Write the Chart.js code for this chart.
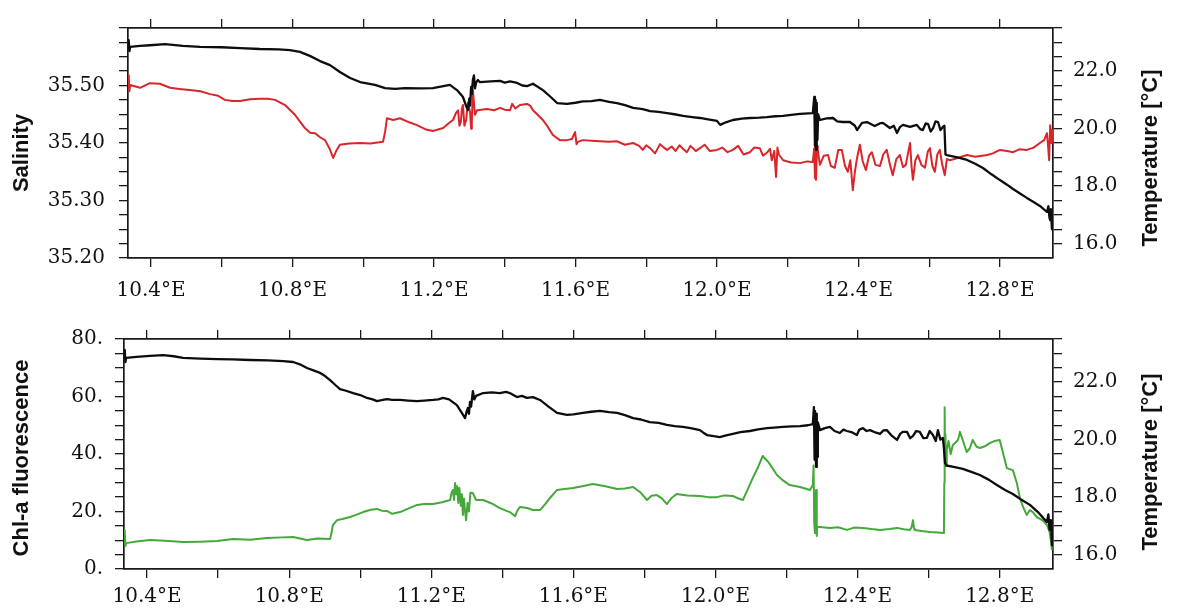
<!DOCTYPE html>
<html><head><meta charset="utf-8">
<script src="https://cdn.jsdelivr.net/npm/chart.js@4.4.1/dist/chart.umd.min.js"></script>
<style>
html,body{margin:0;padding:0;background:#fff;}
#wrap{position:relative;width:1177px;height:610px;overflow:hidden;}
canvas{position:absolute;left:0;}
</style></head><body>
<div id="wrap">
<canvas id="c1" width="1177" height="305" style="top:0"></canvas>
<canvas id="c2" width="1177" height="305" style="top:305px"></canvas>
</div>
<script>
// ---------- axis ticks ----------
const xTickValues = [10.4,10.6,10.8,11.0,11.2,11.4,11.6,11.8,12.0,12.2,12.4,12.6,12.8];
const xTickLabels = ['10.4°E','','10.8°E','','11.2°E','','11.6°E','','12.0°E','','12.4°E','','12.8°E'];
const salTickValues = [35.2,35.225,35.25,35.275,35.3,35.325,35.35,35.375,35.4,35.425,35.45,35.475,35.5,35.525,35.55,35.575,35.6];
const salTickLabels = ['35.20','','','','35.30','','','','35.40','','','','35.50','','','',''];
const tempTickValues = [16.0,16.5,17.0,17.5,18.0,18.5,19.0,19.5,20.0,20.5,21.0,21.5,22.0,22.5,23.0,23.5];
const tempTickLabels = ['16.0','','','','18.0','','','','20.0','','','','22.0','','',''];
const chlTickValues = [0,5,10,15,20,25,30,35,40,45,50,55,60,65,70,75,80];
const chlTickLabels = ['0.','','','','20.','','','','40.','','','','60.','','','','80.'];

// ---------- series: [longitude, value] ----------
const temperatureTop = [[10.335,22.84],[10.337,23.08],[10.339,22.70],[10.341,22.84],[10.369,22.88],[10.397,22.90],[10.440,22.94],[10.490,22.88],[10.539,22.84],[10.600,22.83],[10.652,22.80],[10.708,22.77],[10.760,22.76],[10.793,22.73],[10.821,22.67],[10.849,22.53],[10.878,22.35],[10.906,22.21],[10.934,21.97],[10.963,21.76],[10.991,21.62],[11.033,21.52],[11.062,21.41],[11.090,21.38],[11.118,21.41],[11.160,21.40],[11.197,21.41],[11.245,21.52],[11.265,21.34],[11.282,21.10],[11.292,20.75],[11.296,20.65],[11.300,21.05],[11.302,20.80],[11.305,21.45],[11.307,21.20],[11.310,21.70],[11.313,21.85],[11.316,21.40],[11.319,21.60],[11.324,21.69],[11.330,21.62],[11.360,21.64],[11.387,21.66],[11.400,21.60],[11.415,21.64],[11.435,21.59],[11.450,21.50],[11.463,21.48],[11.480,21.56],[11.508,21.34],[11.530,21.10],[11.548,20.89],[11.576,20.86],[11.600,20.90],[11.621,20.95],[11.645,20.96],[11.669,21.0],[11.695,20.93],[11.717,20.89],[11.740,20.82],[11.763,20.72],[11.790,20.68],[11.811,20.61],[11.835,20.58],[11.859,20.54],[11.880,20.50],[11.904,20.44],[11.930,20.40],[11.952,20.37],[11.975,20.32],[12.000,20.27],[12.009,20.13],[12.025,20.22],[12.045,20.30],[12.070,20.35],[12.093,20.37],[12.120,20.38],[12.141,20.40],[12.165,20.43],[12.187,20.44],[12.210,20.48],[12.235,20.51],[12.271,20.54],[12.275,21.10],[12.277,19.40],[12.279,21.0],[12.280,19.26],[12.282,20.9],[12.284,19.6],[12.286,20.5],[12.291,20.30],[12.310,20.36],[12.328,20.37],[12.340,20.25],[12.356,20.23],[12.376,20.23],[12.390,20.10],[12.396,19.95],[12.410,20.20],[12.424,20.23],[12.446,20.09],[12.460,20.18],[12.469,20.20],[12.489,20.02],[12.500,20.10],[12.509,19.85],[12.517,20.05],[12.526,20.13],[12.546,20.06],[12.565,20.13],[12.575,19.98],[12.582,19.95],[12.590,20.18],[12.597,20.16],[12.604,19.90],[12.611,20.02],[12.618,20.25],[12.625,20.23],[12.632,19.95],[12.639,20.06],[12.643,20.10],[12.646,19.10],[12.650,19.08],[12.680,19.00],[12.707,18.91],[12.730,18.78],[12.752,18.63],[12.775,18.42],[12.800,18.21],[12.820,18.05],[12.837,17.90],[12.860,17.72],[12.876,17.59],[12.895,17.45],[12.913,17.31],[12.933,17.10],[12.937,17.30],[12.940,16.90],[12.942,16.82],[12.944,17.20],[12.947,16.50],[12.949,16.80]];

const salinityTop = [[10.335,35.501],[10.337,35.518],[10.339,35.490],[10.341,35.501],[10.369,35.496],[10.397,35.504],[10.425,35.503],[10.454,35.496],[10.480,35.494],[10.510,35.492],[10.540,35.490],[10.567,35.485],[10.590,35.482],[10.609,35.475],[10.630,35.473],[10.652,35.473],[10.680,35.476],[10.708,35.477],[10.730,35.477],[10.751,35.475],[10.779,35.466],[10.807,35.449],[10.835,35.426],[10.850,35.418],[10.864,35.417],[10.878,35.410],[10.892,35.405],[10.905,35.390],[10.915,35.374],[10.925,35.388],[10.934,35.397],[10.960,35.399],[10.991,35.400],[11.020,35.399],[11.056,35.402],[11.062,35.420],[11.067,35.443],[11.085,35.440],[11.104,35.443],[11.130,35.436],[11.152,35.431],[11.175,35.424],[11.197,35.421],[11.226,35.426],[11.245,35.436],[11.254,35.440],[11.262,35.452],[11.268,35.457],[11.272,35.430],[11.276,35.437],[11.279,35.460],[11.282,35.466],[11.286,35.430],[11.291,35.440],[11.296,35.470],[11.302,35.454],[11.305,35.425],[11.307,35.437],[11.310,35.492],[11.313,35.470],[11.316,35.449],[11.322,35.457],[11.350,35.459],[11.370,35.457],[11.387,35.461],[11.400,35.458],[11.415,35.457],[11.421,35.468],[11.430,35.460],[11.443,35.466],[11.463,35.468],[11.472,35.465],[11.480,35.457],[11.508,35.440],[11.522,35.428],[11.536,35.414],[11.556,35.405],[11.576,35.405],[11.590,35.407],[11.599,35.419],[11.603,35.398],[11.607,35.402],[11.621,35.405],[11.645,35.404],[11.669,35.403],[11.695,35.402],[11.717,35.403],[11.740,35.397],[11.763,35.400],[11.780,35.395],[11.790,35.388],[11.800,35.396],[11.811,35.391],[11.825,35.382],[11.839,35.398],[11.850,35.392],[11.859,35.388],[11.872,35.394],[11.883,35.386],[11.894,35.396],[11.904,35.390],[11.915,35.384],[11.925,35.395],[11.940,35.386],[11.952,35.391],[11.965,35.397],[11.980,35.386],[12.000,35.388],[12.015,35.392],[12.030,35.384],[12.045,35.388],[12.060,35.395],[12.075,35.380],[12.093,35.384],[12.105,35.392],[12.121,35.391],[12.130,35.378],[12.141,35.383],[12.150,35.390],[12.155,35.370],[12.162,35.386],[12.167,35.341],[12.171,35.392],[12.175,35.380],[12.187,35.370],[12.210,35.366],[12.235,35.365],[12.255,35.368],[12.271,35.367],[12.275,35.391],[12.277,35.340],[12.280,35.336],[12.283,35.395],[12.285,35.388],[12.291,35.362],[12.302,35.378],[12.314,35.379],[12.322,35.360],[12.333,35.357],[12.343,35.388],[12.353,35.388],[12.362,35.360],[12.370,35.350],[12.377,35.370],[12.384,35.318],[12.390,35.350],[12.396,35.374],[12.404,35.397],[12.412,35.368],[12.421,35.353],[12.430,35.378],[12.438,35.384],[12.448,35.362],[12.461,35.360],[12.470,35.380],[12.480,35.388],[12.488,35.365],[12.497,35.344],[12.507,35.372],[12.517,35.379],[12.526,35.358],[12.534,35.362],[12.541,35.385],[12.546,35.400],[12.550,35.360],[12.554,35.336],[12.561,35.370],[12.568,35.379],[12.578,35.362],[12.588,35.357],[12.596,35.385],[12.602,35.391],[12.609,35.360],[12.616,35.350],[12.623,35.380],[12.630,35.388],[12.637,35.362],[12.644,35.344],[12.650,35.372],[12.659,35.370],[12.680,35.374],[12.707,35.379],[12.730,35.376],[12.764,35.379],[12.780,35.382],[12.800,35.388],[12.820,35.386],[12.837,35.384],[12.855,35.389],[12.876,35.388],[12.895,35.392],[12.913,35.400],[12.925,35.405],[12.933,35.417],[12.936,35.395],[12.939,35.370],[12.942,35.431],[12.945,35.400],[12.947,35.423],[12.949,35.415]];

const temperatureBottom = [[10.335,22.84],[10.337,23.12],[10.339,22.70],[10.341,22.84],[10.370,22.88],[10.408,22.91],[10.445,22.94],[10.475,22.90],[10.501,22.84],[10.550,22.82],[10.597,22.80],[10.640,22.79],[10.690,22.77],[10.740,22.76],[10.783,22.73],[10.811,22.70],[10.830,22.62],[10.850,22.49],[10.870,22.40],[10.887,22.32],[10.900,22.22],[10.915,22.07],[10.930,21.90],[10.943,21.76],[10.960,21.70],[10.980,21.62],[11.000,21.55],[11.019,21.45],[11.035,21.40],[11.047,21.34],[11.060,21.37],[11.075,21.41],[11.090,21.38],[11.112,21.38],[11.135,21.36],[11.160,21.34],[11.180,21.36],[11.205,21.38],[11.220,21.40],[11.233,21.45],[11.250,21.40],[11.272,21.20],[11.285,20.95],[11.295,20.75],[11.300,21.00],[11.303,21.10],[11.306,20.90],[11.309,21.31],[11.312,21.15],[11.317,21.69],[11.321,21.40],[11.326,21.52],[11.346,21.62],[11.370,21.64],[11.393,21.62],[11.410,21.66],[11.421,21.62],[11.441,21.48],[11.455,21.52],[11.469,21.45],[11.486,21.48],[11.506,21.38],[11.530,21.15],[11.554,20.93],[11.582,20.86],[11.600,20.88],[11.627,20.93],[11.650,20.97],[11.675,21.00],[11.700,20.96],[11.723,20.93],[11.745,20.85],[11.768,20.75],[11.790,20.70],[11.815,20.61],[11.840,20.58],[11.863,20.51],[11.885,20.47],[11.908,20.44],[11.930,20.40],[11.956,20.33],[11.965,20.25],[11.976,20.16],[11.995,20.12],[12.012,20.09],[12.030,20.15],[12.049,20.20],[12.070,20.26],[12.097,20.30],[12.120,20.36],[12.145,20.40],[12.165,20.42],[12.190,20.44],[12.215,20.46],[12.238,20.47],[12.260,20.50],[12.274,20.54],[12.277,21.13],[12.279,19.30],[12.280,21.00],[12.283,19.05],[12.285,20.90],[12.286,19.40],[12.288,20.60],[12.294,20.33],[12.308,20.40],[12.322,20.44],[12.335,20.30],[12.350,20.23],[12.360,20.35],[12.370,20.30],[12.385,20.25],[12.398,20.16],[12.405,20.35],[12.415,20.40],[12.425,20.30],[12.435,20.33],[12.450,20.25],[12.463,20.20],[12.473,20.32],[12.482,20.33],[12.495,20.15],[12.511,19.99],[12.520,20.20],[12.527,20.27],[12.539,20.27],[12.548,20.05],[12.556,20.13],[12.565,20.30],[12.575,20.27],[12.585,20.05],[12.595,20.06],[12.603,20.30],[12.612,20.16],[12.620,19.95],[12.626,20.33],[12.633,20.00],[12.640,20.06],[12.643,19.70],[12.646,19.19],[12.650,19.10],[12.670,19.05],[12.696,18.98],[12.720,18.88],[12.744,18.77],[12.770,18.60],[12.792,18.42],[12.815,18.25],[12.837,18.11],[12.860,17.92],[12.885,17.73],[12.910,17.45],[12.933,17.13],[12.937,17.40],[12.940,16.90],[12.941,16.86],[12.944,17.20],[12.947,16.33],[12.949,16.70]];

const chlorophyll = [[10.335,9.0],[10.337,13.6],[10.339,8.0],[10.341,9.0],[10.370,9.6],[10.408,10.1],[10.450,9.8],[10.501,9.4],[10.550,9.5],[10.597,9.7],[10.642,10.4],[10.690,10.2],[10.738,10.8],[10.780,11.0],[10.811,11.1],[10.850,10.1],[10.880,10.6],[10.915,10.4],[10.919,12.5],[10.923,15.3],[10.935,17.0],[10.950,17.4],[10.971,18.1],[10.990,18.9],[11.008,19.8],[11.030,20.6],[11.047,20.9],[11.060,20.3],[11.075,20.2],[11.090,19.2],[11.112,19.8],[11.135,21.0],[11.160,22.3],[11.180,22.6],[11.205,22.6],[11.230,23.2],[11.253,24.0],[11.257,26.5],[11.261,27.5],[11.264,24.0],[11.267,29.9],[11.270,26.0],[11.273,28.8],[11.276,23.0],[11.279,28.2],[11.283,22.0],[11.286,26.0],[11.289,18.8],[11.292,24.5],[11.295,20.0],[11.298,17.0],[11.302,23.0],[11.306,20.0],[11.310,26.5],[11.317,26.4],[11.326,24.0],[11.346,24.0],[11.370,22.8],[11.393,21.2],[11.410,20.3],[11.421,19.8],[11.436,18.4],[11.443,20.5],[11.450,21.6],[11.470,21.2],[11.486,20.5],[11.506,20.5],[11.520,22.5],[11.534,24.7],[11.554,27.5],[11.575,27.8],[11.599,28.2],[11.625,28.8],[11.655,29.6],[11.690,28.8],[11.723,27.8],[11.745,28.0],[11.768,28.5],[11.790,26.5],[11.807,24.0],[11.820,25.5],[11.835,25.7],[11.850,24.5],[11.863,22.6],[11.877,24.8],[11.891,26.1],[11.920,25.6],[11.956,25.4],[11.980,25.0],[12.004,25.0],[12.025,25.6],[12.049,25.4],[12.065,24.5],[12.077,24.0],[12.090,27.5],[12.105,31.7],[12.120,35.5],[12.133,39.3],[12.150,37.0],[12.173,32.7],[12.190,30.8],[12.209,29.2],[12.238,28.5],[12.266,27.5],[12.274,29.2],[12.276,36.0],[12.278,16.0],[12.280,12.5],[12.282,24.0],[12.283,27.5],[12.285,11.5],[12.286,14.6],[12.294,14.6],[12.322,14.3],[12.345,14.5],[12.370,13.6],[12.390,14.4],[12.415,14.3],[12.440,13.9],[12.463,13.6],[12.490,13.9],[12.511,14.3],[12.530,13.8],[12.547,13.6],[12.552,14.5],[12.556,17.0],[12.559,14.0],[12.561,13.6],[12.580,13.2],[12.603,12.9],[12.625,12.7],[12.643,12.5],[12.644,30.0],[12.645,56.3],[12.646,38.0],[12.647,47.0],[12.649,36.0],[12.651,41.4],[12.656,44.5],[12.662,40.0],[12.668,43.1],[12.676,44.0],[12.683,45.0],[12.688,47.7],[12.697,44.5],[12.707,40.7],[12.716,42.0],[12.724,44.9],[12.735,42.5],[12.744,42.1],[12.760,42.8],[12.772,43.8],[12.785,44.5],[12.800,44.9],[12.810,40.0],[12.820,35.1],[12.837,34.4],[12.848,30.0],[12.857,24.7],[12.866,21.5],[12.876,18.8],[12.885,20.5],[12.893,19.8],[12.905,18.0],[12.920,17.0],[12.933,15.3],[12.940,13.0],[12.944,10.0],[12.947,6.6]];

// ---------- helpers ----------
const X_MIN = 10.335, X_MAX = 12.95;
const toXY = arr => arr.map(p => ({x: p[0], y: p[1]}));
const tickFont = {family: '"DejaVu Serif", "Liberation Serif", serif', size: 20};
const INK = '#111111';

function gridOpts() {
  return {drawOnChartArea: false, drawTicks: true, tickLength: 9, color: '#1a1a1a', lineWidth: 1.3};
}
function borderOpts() { return {display: true, color: '#1a1a1a', width: 1.7}; }

function xAxis(pos, size, pad, show) {
  return {
    type: 'linear', position: pos, min: X_MIN, max: X_MAX,
    afterBuildTicks: s => { s.ticks = xTickValues.map(v => ({value: v})); },
    afterFit: s => { s.height = size; },
    grid: gridOpts(), border: borderOpts(),
    ticks: {display: show, padding: pad, font: tickFont, color: INK, maxRotation: 0, minRotation: 0,
            autoSkip: false, callback: (v, i) => xTickLabels[i]}
  };
}
function yAxis(pos, min, max, vals, labels, size, pad) {
  return {
    type: 'linear', position: pos, min: min, max: max,
    afterBuildTicks: s => { s.ticks = vals.map(v => ({value: v})); },
    afterFit: s => { s.width = size; },
    grid: gridOpts(), border: borderOpts(),
    ticks: {padding: pad, font: tickFont, color: INK, autoSkip: false, callback: (v, i) => labels[i]}
  };
}
function sideTitles(items) {
  return {
    id: 'sideTitles',
    afterDraw(chart) {
      const ctx = chart.ctx;
      items.forEach(t => {
        ctx.save();
        ctx.translate(t.x, t.y);
        ctx.rotate(-Math.PI / 2);
        ctx.font = 'bold 22px "Liberation Sans", Arial, sans-serif';
        ctx.fillStyle = '#111';
        ctx.textAlign = 'center';
        ctx.textBaseline = 'middle';
        ctx.fillText(t.text, 0, 0);
        ctx.restore();
      });
    }
  };
}
function line(data, color, axisId, width, order) {
  return {data: toXY(data), borderColor: color, backgroundColor: color, borderWidth: width,
          pointRadius: 0, tension: 0, xAxisID: 'x', yAxisID: axisId, order: order,
          borderJoinStyle: 'round', fill: false};
}
const common = {responsive: false, animation: false, events: [],
  layout: {padding: 0},
  plugins: {legend: {display: false}, tooltip: {enabled: false}, title: {display: false}}};

// ---------- top panel ----------
new Chart(document.getElementById('c1'), {
  type: 'line',
  data: {datasets: [
    line(temperatureTop, '#0d0d0d', 'yT', 2.3, 0),
    line(salinityTop, '#d8262a', 'yS', 2.0, 1)
  ]},
  options: Object.assign({}, common, {
    scales: {
      x: xAxis('bottom', 47, 12, true),
      x2: xAxis('top', 28, 0, false),
      yS: yAxis('left', 35.2, 35.6, salTickValues, salTickLabels, 128, 14),
      yT: yAxis('right', 15.5, 23.5, tempTickValues, tempTickLabels, 124, 11)
    }
  }),
  plugins: [sideTitles([{text: 'Salinity', x: 22, y: 153}, {text: 'Temperature [°C]', x: 1151, y: 158}])]
});

// ---------- bottom panel ----------
new Chart(document.getElementById('c2'), {
  type: 'line',
  data: {datasets: [
    line(temperatureBottom, '#0d0d0d', 'yT', 2.3, 0),
    line(chlorophyll, '#45a83a', 'yC', 2.0, 1)
  ]},
  options: Object.assign({}, common, {
    scales: {
      x: xAxis('bottom', 41, 7, true),
      x2: xAxis('top', 34, 0, false),
      yC: yAxis('left', 0, 80, chlTickValues, chlTickLabels, 124, 12),
      yT: yAxis('right', 15.5, 23.5, tempTickValues, tempTickLabels, 124, 11)
    }
  }),
  plugins: [sideTitles([{text: 'Chl-a fluorescence', x: 22, y: 153}, {text: 'Temperature [°C]', x: 1151, y: 157}])]
});
</script>
</body></html>
